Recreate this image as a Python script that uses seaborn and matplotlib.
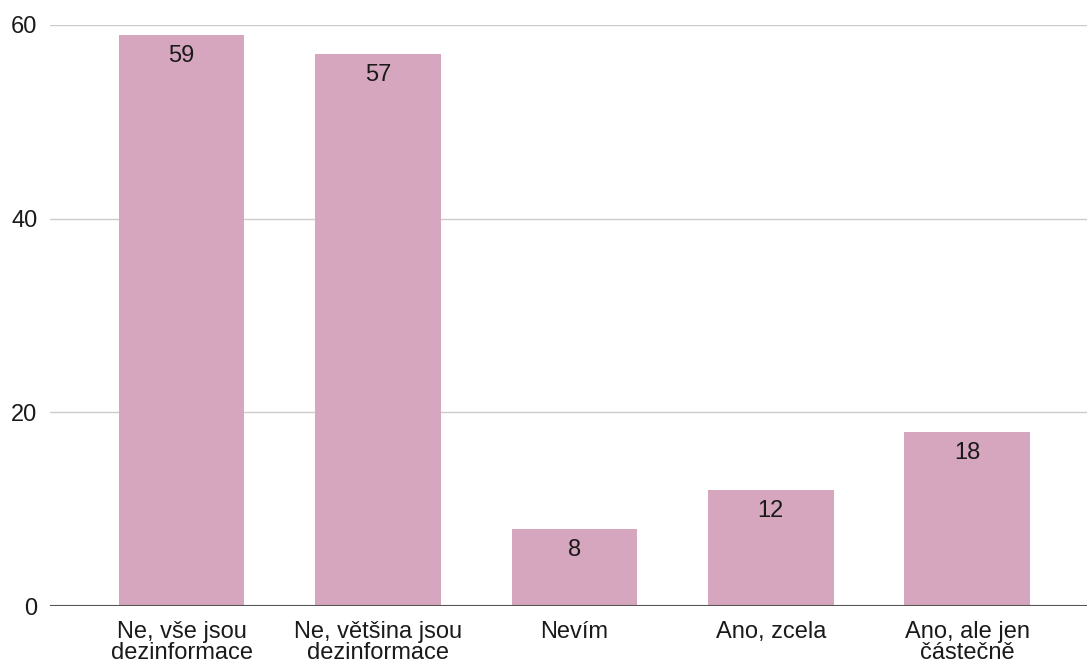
import pandas as pd
import matplotlib.pyplot as plt
plt.switch_backend('Agg')
import seaborn as sns

# Chart data
categories = ["Ne, vše jsou\ndezinformace", "Ne, většina jsou\ndezinformace", "Nevím",
              "Ano, zcela", "Ano, ale jen\nčástečně"]
counts = [59, 57, 8, 12, 18]

df = pd.DataFrame({"odpoved": categories, "pocet": counts})

sns.set_theme(style="white")
plt.rcParams['font.family'] = ['Liberation Sans', 'DejaVu Sans']

fig = plt.figure(figsize=(10.87, 6.66), dpi=100)
ax = fig.add_axes([0.046, 0.09, 0.954, 0.8725])

sns.barplot(data=df, x="odpoved", y="pocet", color="#d5a6bd", saturation=1,
            width=0.64, linewidth=0, ax=ax)

for c in ax.containers:
    ax.bar_label(c, padding=-23, fontsize=17, color="#1a1a1a")

ax.set_ylim(0, 60)
ax.set_xlim(-0.67, 4.61)
ax.set_yticks([0, 20, 40, 60])
ax.yaxis.grid(True, color="#cccccc", linewidth=1)
ax.set_axisbelow(True)
ax.axhline(0, color="#555555", linewidth=1.5, zorder=3)
for s in ax.spines.values():
    s.set_visible(False)
ax.set_xlabel("")
ax.set_ylabel("")
ax.tick_params(axis="y", length=0, pad=9, labelsize=17, labelcolor="#1a1a1a")
ax.tick_params(axis="x", length=0, pad=11, labelsize=17, labelcolor="#1a1a1a")
for t in ax.get_xticklabels():
    t.set_linespacing(0.9)

fig.savefig("out.png", dpi=100)
